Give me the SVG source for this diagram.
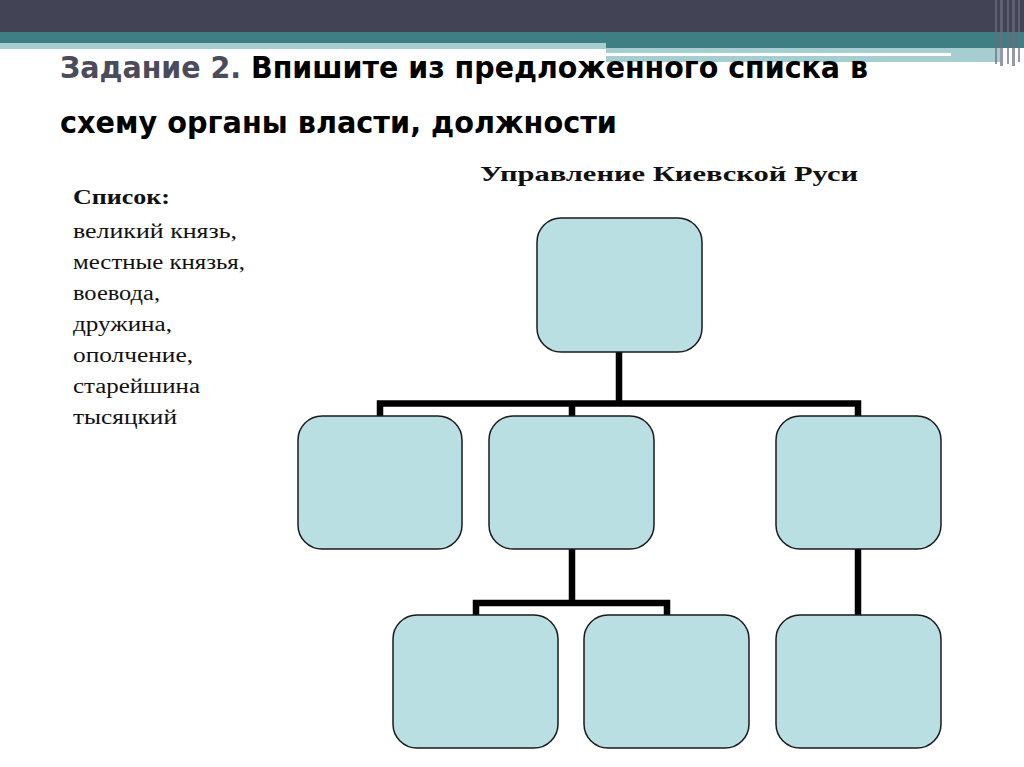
<svg xmlns="http://www.w3.org/2000/svg" width="1024" height="767" viewBox="0 0 1024 767">
<style>
.box{fill:#b9dfe3;stroke:#1a1a1a;stroke-width:1.5}
.con{fill:none;stroke:#000;stroke-width:6.5;stroke-linecap:square;stroke-linejoin:miter}
.title{font-family:"DejaVu Sans",sans-serif;font-weight:bold;font-size:30px;fill:#000}
.list{font-family:"Liberation Serif",serif;font-size:20px;fill:#111}
</style>
<rect width="1024" height="767" fill="#fff"/>
<g id="header">
<rect x="0" y="0" width="1024" height="32" fill="#424456"/>
<rect x="0" y="32" width="1024" height="16" fill="#3f7f84"/>
<rect x="0" y="43" width="606" height="6" fill="#a6cdd0"/>
<rect x="606" y="48" width="394" height="14" fill="#a6cdd0"/>
<rect x="606" y="53" width="345" height="3" fill="#fff"/>
<g fill="#6a6d80" opacity="0.7">
<rect x="995" y="0" width="2" height="64"/>
<rect x="1000" y="0" width="3" height="66"/>
<rect x="1007" y="0" width="2" height="64"/>
<rect x="1012" y="0" width="3" height="66"/>
<rect x="1018" y="0" width="2" height="62"/>
</g>
</g>
<g id="title">
<text class="title" x="60" y="78" textLength="808" lengthAdjust="spacingAndGlyphs"><tspan fill="#4b4b5c">Задание 2.</tspan> Впишите из предложенного списка в</text>
<text class="title" x="60" y="133" textLength="557" lengthAdjust="spacingAndGlyphs">схему органы власти, должности</text>
</g>
<g id="list">
<text class="list" x="73" y="204" font-weight="bold" textLength="97" lengthAdjust="spacingAndGlyphs">Список:</text>
<text class="list" x="73" y="238" textLength="164" lengthAdjust="spacingAndGlyphs">великий князь,</text>
<text class="list" x="73" y="269" textLength="172" lengthAdjust="spacingAndGlyphs">местные князья,</text>
<text class="list" x="73" y="300" textLength="87" lengthAdjust="spacingAndGlyphs">воевода,</text>
<text class="list" x="73" y="331" textLength="99" lengthAdjust="spacingAndGlyphs">дружина,</text>
<text class="list" x="73" y="362" textLength="120" lengthAdjust="spacingAndGlyphs">ополчение,</text>
<text class="list" x="73" y="393" textLength="127" lengthAdjust="spacingAndGlyphs">старейшина</text>
<text class="list" x="73" y="424" textLength="104" lengthAdjust="spacingAndGlyphs">тысяцкий</text>
</g>
<text id="diagram-title" x="480" y="181" font-family="Liberation Serif, serif" font-weight="bold" font-size="22" fill="#111" textLength="378" lengthAdjust="spacingAndGlyphs">Управление Киевской Руси</text>
<g id="connectors">
<path class="con" d="M619 352 V403.5 M380 416 V403.5 H858 V416 M572 403.5 V416"/>
<path class="con" d="M572 549 V603 M476 615 V603 H667 V615"/>
<path class="con" d="M858 549 V615"/>
</g>
<g id="node-top"><rect class="box" x="537" y="218" width="165" height="134" rx="24"/></g>
<g id="node-l1"><rect class="box" x="298" y="416" width="164" height="133" rx="24"/></g>
<g id="node-l2"><rect class="box" x="489" y="416" width="165" height="133" rx="24"/></g>
<g id="node-l3"><rect class="box" x="776" y="416" width="165" height="133" rx="24"/></g>
<g id="node-b1"><rect class="box" x="393" y="615" width="165" height="133" rx="24"/></g>
<g id="node-b2"><rect class="box" x="584" y="615" width="165" height="133" rx="24"/></g>
<g id="node-b3"><rect class="box" x="776" y="615" width="165" height="133" rx="24"/></g>
</svg>
